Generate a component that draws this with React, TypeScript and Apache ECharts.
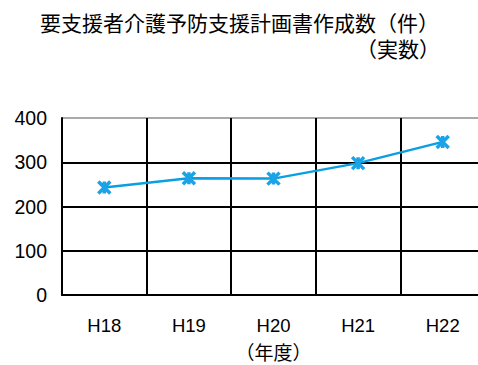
import React, { useEffect, useRef } from "react";
import * as echarts from "echarts";

const categories = ["H18", "H19", "H20", "H21", "H22"];
const values = [243, 264, 263, 298, 346];
const titleLine1 = "要支援者介護予防支援計画書作成数（件）";
const titleLine2 = "（実数）";
const xName = "（年度）";

export default function App() {
  const ref = useRef<HTMLDivElement>(null);
  useEffect(() => {
    if (!ref.current) return;
    const chart = echarts.init(ref.current, null, { renderer: "svg", width: 478, height: 365 });
    const font = "'Noto Sans CJK JP', 'Noto Sans', sans-serif";
    const numFont = "'Liberation Sans', Arial, sans-serif";
    chart.setOption({
      animation: false,
      backgroundColor: "#fff",
      grid: {
        left: 62,
        top: 118,
        bottom: 70,
        right: -7,
        containLabel: false,
        outerBoundsMode: "none",
      },
      graphic: [
        {
          type: "text",
          left: 40,
          top: 11,
          style: { text: titleLine1, font: `21px ${font}`, fill: "#000", lineHeight: 21 },
        },
        {
          type: "text",
          right: 38,
          top: 37,
          style: { text: titleLine2, font: `21px ${font}`, fill: "#000", lineHeight: 21 },
        },
      ],
      xAxis: {
        type: "category",
        data: categories,
        boundaryGap: true,
        name: xName,
        nameLocation: "middle",
        nameGap: 46,
        nameTextStyle: { fontSize: 19, color: "#000", fontFamily: font, lineHeight: 20 },
        axisLine: { show: true, lineStyle: { color: "#000", width: 2 } },
        axisTick: { show: false },
        axisLabel: { fontSize: 18.5, color: "#000", margin: 21, fontFamily: numFont },
        splitLine: { show: true, interval: 0, lineStyle: { color: "#000", width: 2 } },
      },
      yAxis: {
        type: "value",
        min: 0,
        max: 400,
        interval: 100,
        axisLine: { show: true, lineStyle: { color: "#000", width: 2 } },
        axisTick: { show: false },
        axisLabel: { fontSize: 19.5, color: "#000", margin: 15, fontFamily: numFont },
        splitLine: {
          show: true,
          lineStyle: { color: ["#000", "#000", "#000", "#000", "#aaa"], width: 2 },
        },
      },
      series: [
        {
          type: "line",
          data: values,
          lineStyle: { color: "#0a9fe0", width: 2.5 },
          symbol: "path://M0,0 L10,10 M10,0 L0,10 M5,0 L5,10",
          symbolSize: 12,
          showSymbol: true,
          itemStyle: { color: "#1aa3e6", borderColor: "#1aa3e6", borderWidth: 3.5 },
        },
      ],
    });
    return () => chart.dispose();
  }, []);
  return (
    <div
      ref={ref}
      style={{ position: "absolute", left: 0, top: 0, width: 478, height: 365 }}
    />
  );
}
